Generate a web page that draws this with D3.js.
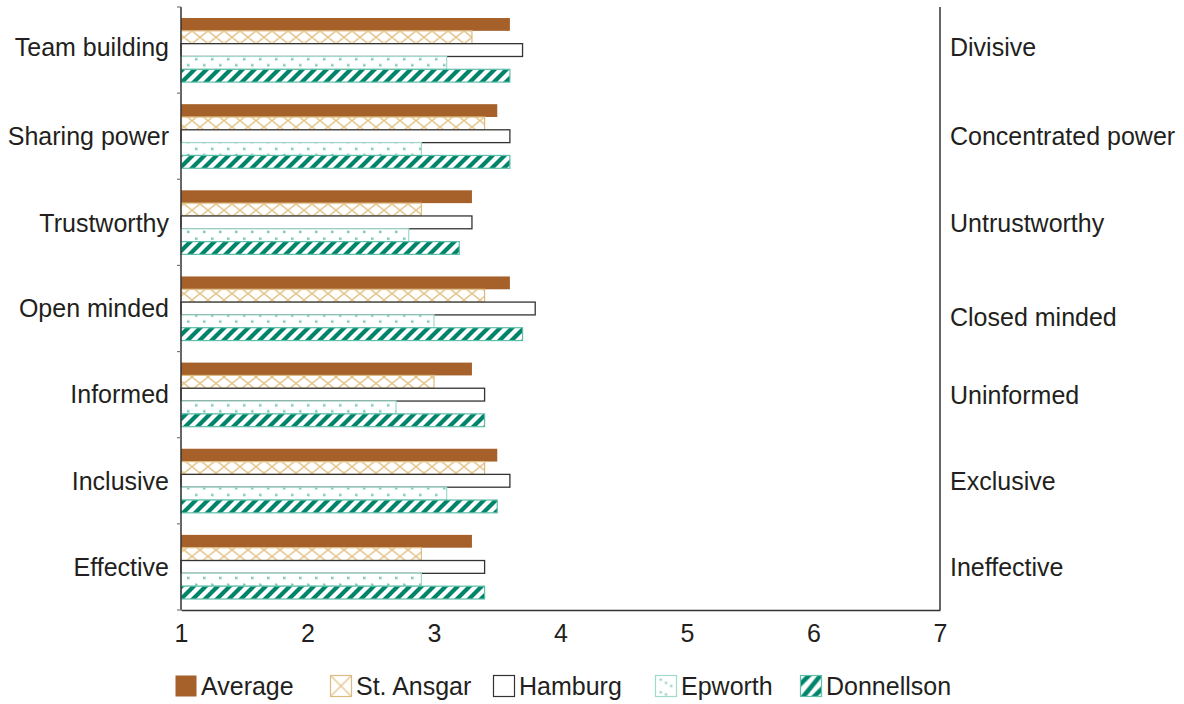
<!DOCTYPE html>
<html>
<head>
<meta charset="utf-8">
<script src="https://cdn.jsdelivr.net/npm/d3@7"></script>
<style>
  html, body { margin: 0; padding: 0; background: #fff; }
  svg { display: block; font-family: "Liberation Sans", Arial, sans-serif; }
</style>
</head>
<body>
<svg id="chart" width="1184" height="704"></svg>
<script>
// ---------- data ----------
const categories = ["Team building", "Sharing power", "Trustworthy", "Open minded", "Informed", "Inclusive", "Effective"];
const opposites  = ["Divisive", "Concentrated power", "Untrustworthy", "Closed minded", "Uninformed", "Exclusive", "Ineffective"];
const seriesNames = ["Average", "St. Ansgar", "Hamburg", "Epworth", "Donnellson"];
const average    = [3.6, 3.5, 3.3, 3.6, 3.3, 3.5, 3.3];
const stAnsgar   = [3.3, 3.4, 2.9, 3.4, 3.0, 3.4, 2.9];
const hamburg    = [3.7, 3.6, 3.3, 3.8, 3.4, 3.6, 3.4];
const epworth    = [3.1, 2.9, 2.8, 3.0, 2.7, 3.1, 2.9];
const donnellson = [3.6, 3.6, 3.2, 3.7, 3.4, 3.5, 3.4];
const xTicks = [1, 2, 3, 4, 5, 6, 7];

const seriesValues = [average, stAnsgar, hamburg, epworth, donnellson];

(function () {
// ---------- layout ----------
const mLeft = 181, mRight = 940, mTop = 7, mBottom = 610;
const svg = d3.select("#chart");
const textColor = "#231f20";
const fontSize = 25;
// small vertical nudges of the labels, as placed in the original
const leftLabelDy  = [-3, 0, 1, 0, 0, 0, 0];
const rightLabelDy = [-3, 0, 1, 9, 1, 0, 0];

const x = d3.scaleLinear().domain([1, 7]).range([mLeft, mRight]);
const y = d3.scaleBand().domain(categories).range([mTop, mBottom]).paddingInner(0).paddingOuter(0);
const yInner = d3.scaleBand().domain(seriesNames).range([0, y.bandwidth()]).paddingInner(0).paddingOuter(0.86);

// ---------- patterns ----------
const defs = svg.append("defs");
const bh = yInner.bandwidth();
// St. Ansgar lattice
const pA = defs.append("pattern").attr("id", "pAnsgar").attr("patternUnits", "userSpaceOnUse")
  .attr("width", 16).attr("height", bh).attr("y", mTop + yInner(seriesNames[1]));
pA.append("rect").attr("width", 16).attr("height", bh).attr("fill", "#fff");
pA.append("path").attr("d", `M0,0 L16,${bh} M16,0 L0,${bh}`)
  .attr("stroke", "#e3c388").attr("stroke-width", 1.4).attr("fill", "none");
// Epworth dots
const pE = defs.append("pattern").attr("id", "pEpworth").attr("patternUnits", "userSpaceOnUse")
  .attr("width", 16).attr("height", bh).attr("y", mTop + yInner(seriesNames[3]));
pE.append("rect").attr("width", 16).attr("height", bh).attr("fill", "#fff");
pE.append("rect").attr("x", 3).attr("y", 1.5).attr("width", 2.5).attr("height", 2.5).attr("fill", "#7fcabb");
pE.append("rect").attr("x", 11).attr("y", 7.5).attr("width", 2.5).attr("height", 2.5).attr("fill", "#7fcabb");
// Donnellson stripes
const pD = defs.append("pattern").attr("id", "pDonn").attr("patternUnits", "userSpaceOnUse")
  .attr("width", 12).attr("height", 12);
pD.append("rect").attr("width", 12).attr("height", 12).attr("fill", "#fff");
pD.append("path").attr("d", "M-3,3 L3,-3 M0,12 L12,0 M9,15 L15,9")
  .attr("stroke", "#00846a").attr("stroke-width", 4.2).attr("fill", "none");

// legend patterns (aligned to swatches)
const pLA = defs.append("pattern").attr("id", "pLegA").attr("patternUnits", "objectBoundingBox")
  .attr("width", 1).attr("height", 1).attr("patternContentUnits", "objectBoundingBox");
pLA.append("rect").attr("width", 1).attr("height", 1).attr("fill", "#fff");
pLA.append("path").attr("d", "M0,0 L1,1 M1,0 L0,1").attr("stroke", "#e3c388").attr("stroke-width", 0.06).attr("fill", "none");
const pLE = defs.append("pattern").attr("id", "pLegE").attr("patternUnits", "objectBoundingBox")
  .attr("width", 1).attr("height", 1).attr("patternContentUnits", "objectBoundingBox");
pLE.append("rect").attr("width", 1).attr("height", 1).attr("fill", "#fff");
[[0.2, 0.15], [0.7, 0.45], [0.2, 0.75], [0.45, 0.3], [0.45, 0.85]].forEach(p => {
  pLE.append("rect").attr("x", p[0]).attr("y", p[1]).attr("width", 0.1).attr("height", 0.1).attr("fill", "#7fcabb");
});
const pLD = defs.append("pattern").attr("id", "pLegD").attr("patternUnits", "objectBoundingBox")
  .attr("width", 1).attr("height", 1).attr("patternContentUnits", "objectBoundingBox");
pLD.append("rect").attr("width", 1).attr("height", 1).attr("fill", "#fff");
pLD.append("path").attr("d", "M-0.1,0.5 L0.5,-0.1 M0.1,1.05 L0.95,0 M0.55,1.1 L1.1,0.55")
  .attr("stroke", "#00846a").attr("stroke-width", 0.22).attr("fill", "none");

const styles = [
  { fill: "#a6612b", stroke: "#a6612b", sw: 0 },
  { fill: "url(#pAnsgar)", stroke: "#dcbb80", sw: 1.2 },
  { fill: "#ffffff", stroke: "#333333", sw: 1.3 },
  { fill: "url(#pEpworth)", stroke: "#9fdacd", sw: 1.2 },
  { fill: "url(#pDonn)", stroke: "#5fbea8", sw: 1.2 }
];

// ---------- bars ----------
const groups = svg.append("g").selectAll("g").data(categories).join("g");
groups.selectAll("rect")
  .data((d, ci) => seriesNames.map((s, si) => ({ c: d, s, si, v: seriesValues[si][ci] })))
  .join("rect")
  .attr("x", x(1))
  .attr("y", d => y(d.c) + yInner(d.s))
  .attr("width", d => x(d.v) - x(1))
  .attr("height", bh)
  .attr("fill", d => styles[d.si].fill)
  .attr("stroke", d => styles[d.si].sw ? styles[d.si].stroke : "none")
  .attr("stroke-width", d => styles[d.si].sw);

// ---------- axes ----------
const xAxis = svg.append("g").attr("transform", `translate(0,${mBottom})`)
  .call(d3.axisBottom(x).tickValues(xTicks).tickSize(0).tickPadding(14).tickFormat(d3.format("d")));
xAxis.select(".domain").attr("stroke", "#333").attr("stroke-width", 1.5);
xAxis.selectAll("text").attr("font-size", fontSize).attr("fill", textColor)
  .attr("font-family", "Liberation Sans, Arial, sans-serif");

svg.append("line").attr("x1", mLeft).attr("x2", mLeft).attr("y1", mTop).attr("y2", mBottom)
  .attr("stroke", "#333").attr("stroke-width", 1.5);
const boundaries = categories.map(c => y(c)).concat([mBottom]);
svg.append("g").selectAll("line").data(boundaries).join("line")
  .attr("x1", mLeft - 4).attr("x2", mLeft).attr("y1", d => d).attr("y2", d => d)
  .attr("stroke", "#777").attr("stroke-width", 1.2);

svg.append("line").attr("x1", mRight).attr("x2", mRight).attr("y1", mTop).attr("y2", mBottom)
  .attr("stroke", "#333").attr("stroke-width", 1.5);

svg.append("g").selectAll("text").data(categories).join("text")
  .attr("x", mLeft - 12)
  .attr("y", (d, i) => y(d) + y.bandwidth() / 2 + fontSize * 0.35 + leftLabelDy[i])
  .attr("text-anchor", "end")
  .attr("font-size", fontSize).attr("fill", textColor)
  .text(d => d);

svg.append("g").selectAll("text").data(opposites).join("text")
  .attr("x", mRight + 10)
  .attr("y", (d, i) => y(categories[i]) + y.bandwidth() / 2 + fontSize * 0.35 + rightLabelDy[i])
  .attr("text-anchor", "start")
  .attr("font-size", fontSize).attr("fill", textColor)
  .text(d => d);

// ---------- legend ----------
const legendX = [175, 330, 493, 655, 800];
const legendY = 675, sw = 22;
const lg = svg.append("g").selectAll("g").data(seriesNames).join("g")
  .attr("transform", (d, i) => `translate(${legendX[i]},${legendY})`);
lg.append("rect")
  .attr("x", 0.5).attr("y", 0.5).attr("width", sw - 1).attr("height", sw - 1)
  .attr("fill", (d, i) => i === 1 ? "url(#pLegA)" : i === 3 ? "url(#pLegE)" : i === 4 ? "url(#pLegD)" : styles[i].fill)
  .attr("stroke", (d, i) => i === 0 ? "none" : styles[i].stroke)
  .attr("stroke-width", 1.2);
lg.append("text")
  .attr("x", sw + 4).attr("y", sw / 2 + fontSize * 0.35)
  .attr("font-size", fontSize).attr("fill", textColor)
  .text(d => d);
})();
</script>
</body>
</html>
